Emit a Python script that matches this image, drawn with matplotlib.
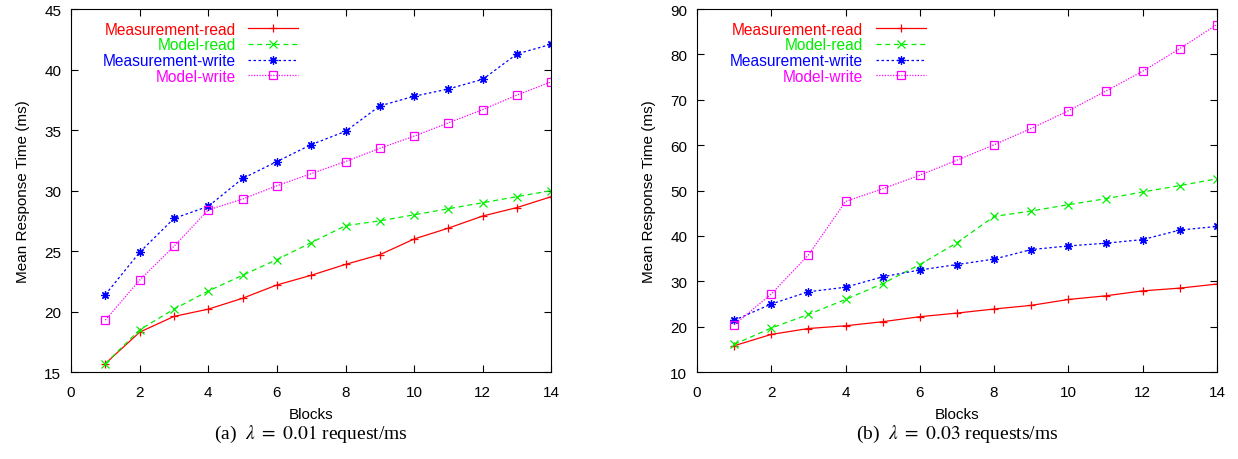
import matplotlib.pyplot as plt

plt.rcParams['font.family'] = ['Liberation Sans', 'DejaVu Sans']
plt.rcParams['mathtext.fontset'] = 'stix'

blocks = list(range(1, 15))

# (a) lambda = 0.01 request/ms
a_meas_read = [15.7, 18.3, 19.6, 20.2, 21.1, 22.2, 23.0, 23.9, 24.7, 26.0, 26.9, 27.9, 28.6, 29.5]
a_model_read = [15.7, 18.5, 20.2, 21.7, 23.0, 24.3, 25.7, 27.1, 27.5, 28.0, 28.5, 29.0, 29.5, 30.0]
a_meas_write = [21.4, 24.9, 27.7, 28.7, 31.0, 32.4, 33.8, 34.9, 37.0, 37.8, 38.4, 39.2, 41.3, 42.1]
a_model_write = [19.3, 22.6, 25.4, 28.4, 29.3, 30.4, 31.4, 32.4, 33.5, 34.5, 35.6, 36.7, 37.9, 39.0]

# (b) lambda = 0.03 requests/ms
b_meas_read = [15.8, 18.3, 19.6, 20.2, 21.1, 22.2, 23.0, 23.9, 24.7, 26.0, 26.8, 27.9, 28.5, 29.4]
b_model_read = [16.1, 19.7, 22.7, 26.0, 29.5, 33.7, 38.5, 44.3, 45.5, 46.9, 48.2, 49.7, 51.1, 52.6]
b_meas_write = [21.4, 25.0, 27.7, 28.7, 31.0, 32.5, 33.7, 34.9, 37.0, 37.8, 38.4, 39.2, 41.3, 42.1]
b_model_write = [20.4, 27.2, 35.8, 47.6, 50.4, 53.4, 56.7, 60.1, 63.7, 67.6, 71.9, 76.3, 81.3, 86.6]

labels = ["Measurement-read", "Model-read", "Measurement-write", "Model-write"]
colors = ["#ff0000", "#00ee00", "#0000ff", "#ff00ff"]
styles = ["-", (0, (4, 3)), (0, (2, 2)), (0, (1, 1.2))]
markers = ["+", "x", (8, 2, 0), "s"]


def draw(ax, series, ylim, yticks, caption):
    for vals, lab, c, ls, m in zip(series, labels, colors, styles, markers):
        ax.plot(blocks, vals, color=c, linestyle=ls, linewidth=0.9,
                marker=m, markersize=6, markerfacecolor="none",
                markeredgewidth=0.9, label=lab)
    ax.set_xlim(0, 14)
    ax.set_ylim(*ylim)
    ax.set_xticks(range(0, 15, 2))
    ax.set_yticks(yticks)
    ax.tick_params(direction="in", top=True, right=True, labelsize=11, length=5)
    ax.tick_params(axis="x", pad=9)
    ax.tick_params(axis="y", pad=7)
    ax.set_xlabel("Blocks", fontsize=11, labelpad=6)
    ax.set_ylabel("Mean Response Time (ms)", fontsize=11, labelpad=10)
    ax.legend(loc="upper left", bbox_to_anchor=(0.04, 1.0), frameon=False,
              markerfirst=False, labelcolor="linecolor", fontsize=11.2,
              handlelength=3.2, labelspacing=0.05, borderpad=0.3)
    ax.text(0.5, -0.14, caption, transform=ax.transAxes, ha="center", va="top",
            fontsize=14, family="Liberation Serif")


fig = plt.figure(figsize=(12.38, 4.6), dpi=100)
ax1 = fig.add_axes([0.0574, 0.189, 0.388, 0.789])
ax2 = fig.add_axes([0.563, 0.189, 0.420, 0.789])

draw(ax1, [a_meas_read, a_model_read, a_meas_write, a_model_write],
     (15, 45), range(15, 46, 5), r"(a)  $\lambda\ =\ 0.01$ request/ms")
draw(ax2, [b_meas_read, b_model_read, b_meas_write, b_model_write],
     (10, 90), range(10, 91, 10), r"(b)  $\lambda\ =\ 0.03$ requests/ms")

fig.savefig("out.png", dpi=100)
